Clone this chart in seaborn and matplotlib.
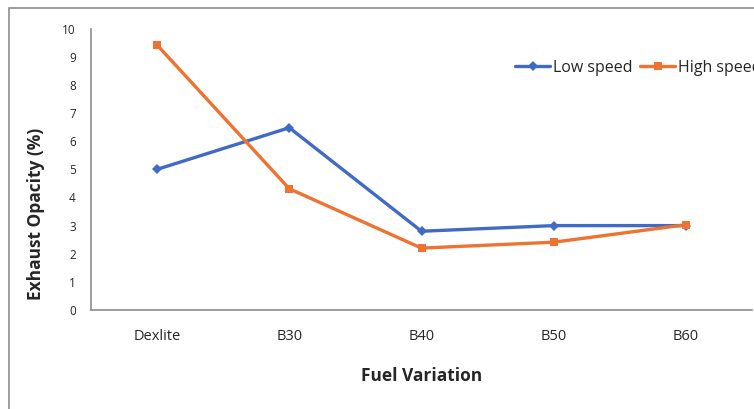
import matplotlib
matplotlib.use("Agg")
import matplotlib.pyplot as plt
from matplotlib.patches import Rectangle
import seaborn as sns
import pandas as pd

fuels = ["Dexlite", "B30", "B40", "B50", "B60"]
low_speed = [5.0, 6.48, 2.8, 3.0, 3.0]
high_speed = [9.42, 4.31, 2.2, 2.41, 3.03]

df = pd.DataFrame({
    "fuel": fuels * 2,
    "opacity": low_speed + high_speed,
    "series": ["Low speed"] * len(fuels) + ["High speed"] * len(fuels),
})

sns.set_style("white")
plt.rcParams["font.family"] = ["Open Sans", "DejaVu Sans"]

fig = plt.figure(figsize=(7.54, 4.09), dpi=100)
ax = fig.add_axes([91 / 754, 1 - 310 / 409, 661 / 754, (310 - 28.7) / 409])

sns.lineplot(data=df, x="fuel", y="opacity", hue="series", style="series",
             markers={"Low speed": "D", "High speed": "s"}, dashes=False,
             palette={"Low speed": "#4169C6", "High speed": "#EE7230"},
             linewidth=2.4, markersize=5.5, markeredgewidth=0, ax=ax, sort=False)

ax.set_xlim(-0.5, 4.5)
ax.set_ylim(0, 10)
ax.set_yticks(range(0, 11))
ax.set_xticks([i - 0.5 for i in range(6)], minor=False)
ax.set_xticklabels([])
ax.set_xticks(range(5), minor=True)
ax.set_xticklabels(fuels, minor=True)
ax.tick_params(axis="x", which="major", direction="out", length=5, width=1, color="#8c8c8c")
ax.tick_params(axis="x", which="minor", length=0, pad=14, labelsize=10.5)
ax.tick_params(axis="y", direction="out", length=5, width=1, color="#8c8c8c", labelsize=8.5, pad=6)

for side in ["top", "right"]:
    ax.spines[side].set_visible(False)
for side in ["left", "bottom"]:
    ax.spines[side].set_color("#8c8c8c")
    ax.spines[side].set_linewidth(1.2)

ax.set_xlabel("Fuel Variation", fontsize=12.5, fontweight="bold")
ax.xaxis.set_label_coords(0.5, -(376 - 310) / 281.3)
ax.xaxis.label.set_verticalalignment("center")
ax.set_ylabel("Exhaust Opacity (%)", fontsize=12.5, fontweight="bold")
ax.yaxis.set_label_coords(-(91 - 36) / 661, (310 - 214) / 281.3)
ax.yaxis.label.set_verticalalignment("center")

# legend runs past the right edge, as in the original
handles, labels = ax.get_legend_handles_labels()
ax.legend(handles, labels, ncol=2, frameon=False, loc="upper left",
          bbox_to_anchor=(515 / 754, 1 - 60 / 409), bbox_transform=fig.transFigure,
          borderaxespad=0, borderpad=0, handlelength=2.2, handletextpad=0.2,
          columnspacing=0.45, fontsize=11.5)

fig.patches.append(Rectangle((9 / 754, -0.1), 1.2, 1.1 - 8 / 409, transform=fig.transFigure,
                             fill=False, edgecolor="#8c8c8c", linewidth=1.2))

fig.savefig("out.png", dpi=100)
